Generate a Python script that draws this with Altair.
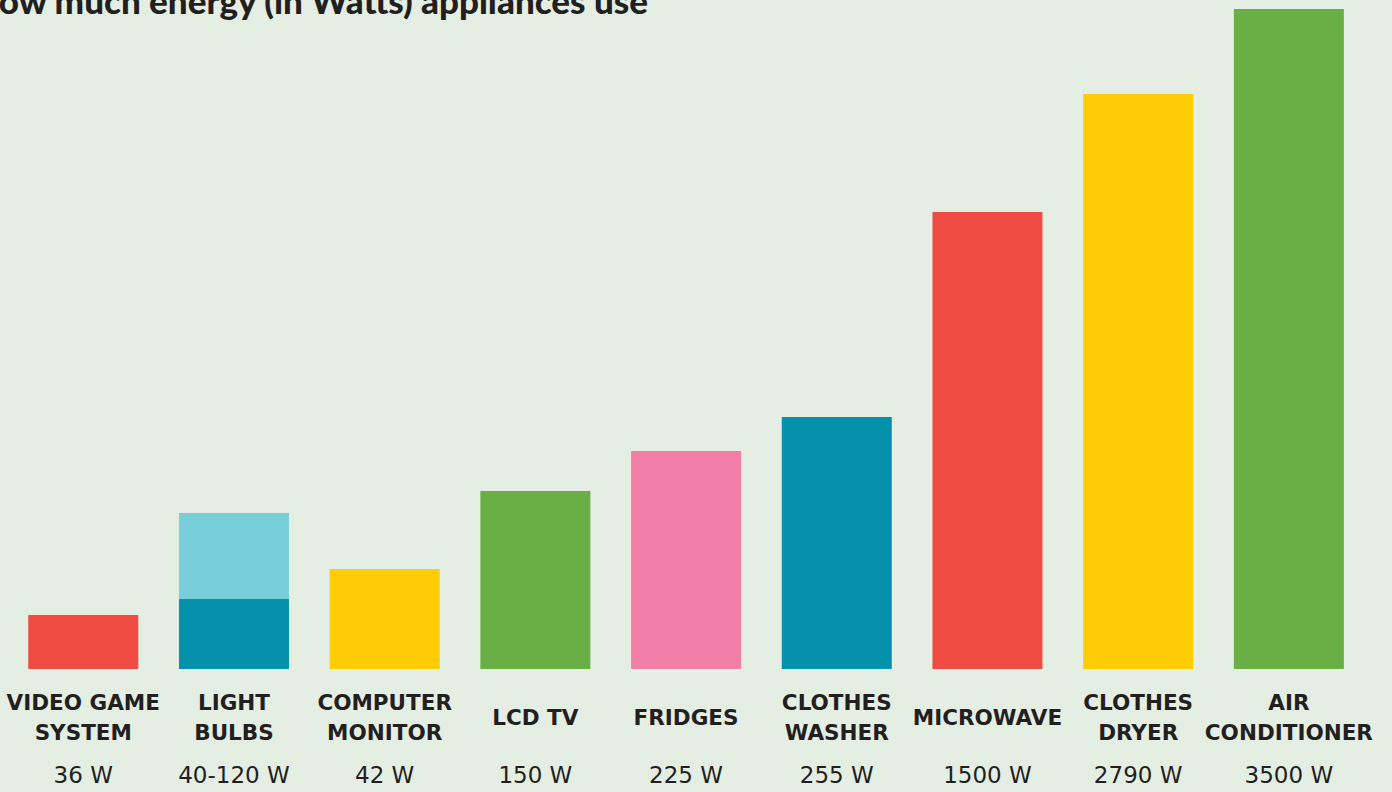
import altair as alt
import pandas as pd

# Appliance names, shown as two-line labels
appliances = ["VIDEO GAME\nSYSTEM", "LIGHT\nBULBS", "COMPUTER\nMONITOR", "LCD TV", "FRIDGES",
              "CLOTHES\nWASHER", "MICROWAVE", "CLOTHES\nDRYER", "AIR\nCONDITIONER"]
watts = ["36 W", "40-120 W", "42 W", "150 W", "225 W", "255 W", "1500 W", "2790 W", "3500 W"]
# Bar heights as drawn (infographic units, not proportional to the wattage)
bar_low = [0, 0, 0, 0, 0, 0, 0, 0, 0]
bar_high = [54, 70, 100, 178, 218, 252, 457, 575, 660]
bar_color = ["red", "teal", "yellow", "green", "pink", "teal", "red", "yellow", "green"]
# extra upper segment for the light bulbs (range 40-120 W)
extra_appliance = ["LIGHT\nBULBS"]
extra_low = [70]
extra_high = [156]
extra_color = ["lightteal"]

title_text = "How much energy (in Watts) appliances use"

color_keys = ["red", "teal", "lightteal", "yellow", "green", "pink"]
color_hex = ["#F04B42", "#0590AB", "#78CFDB", "#FFCC05", "#6AAF46", "#F17FA7"]

bars_df = pd.DataFrame({
    "appliance": appliances + extra_appliance,
    "lo": bar_low + extra_low,
    "hi": bar_high + extra_high,
    "col": bar_color + extra_color,
})
label_df = pd.DataFrame({"appliance": appliances, "watts": watts})

LINE_H = 30

x = alt.X("appliance:N", sort=appliances, axis=None,
          scale=alt.Scale(paddingInner=0.27, paddingOuter=0.2535, align=0.37))

bars = alt.Chart(bars_df).mark_bar(cornerRadius=0).encode(
    x=x,
    y=alt.Y("lo:Q", axis=None, scale=alt.Scale(domain=[0, 669], nice=False, zero=True)),
    y2="hi:Q",
    color=alt.Color("col:N", scale=alt.Scale(domain=color_keys, range=color_hex), legend=None),
)

names = alt.Chart(label_df).transform_calculate(
    nl="length(split(datum.appliance, '\\n'))",
).transform_calculate(
    off=f"-(datum.nl - 1) * {LINE_H} / 2",
).mark_text(
    lineBreak="\n", lineHeight=LINE_H, baseline="middle", align="center",
    font="DejaVu Sans", fontWeight="bold", fontSize=21.5, color="#231F20",
).encode(
    x=x, y=alt.value(719),
    yOffset=alt.YOffset("off:Q", scale=None),
    text="appliance:N",
)

wlabels = alt.Chart(label_df).mark_text(
    baseline="middle", align="center",
    font="DejaVu Sans", fontWeight="normal", fontSize=23, color="#231F20",
).encode(x=x, y=alt.value(776), text="watts:N")

title = alt.Chart(pd.DataFrame({"t": [title_text]})).mark_text(
    align="right", baseline="alphabetic", font="Lato", fontWeight=900, fontSize=35, color="#231F20",
).encode(x=alt.value(648), y=alt.value(14), text="t:N")

chart = alt.layer(bars, names, wlabels, title).properties(
    width=1392, height=669,
    autosize=alt.AutoSizeParams(type="none"),
    padding={"left": 0, "top": 0, "right": 0, "bottom": 123},
    background="#E5EEE3",
).configure_view(strokeWidth=0)

chart.save("out.html", embed_options={"renderer": "svg", "actions": False})
